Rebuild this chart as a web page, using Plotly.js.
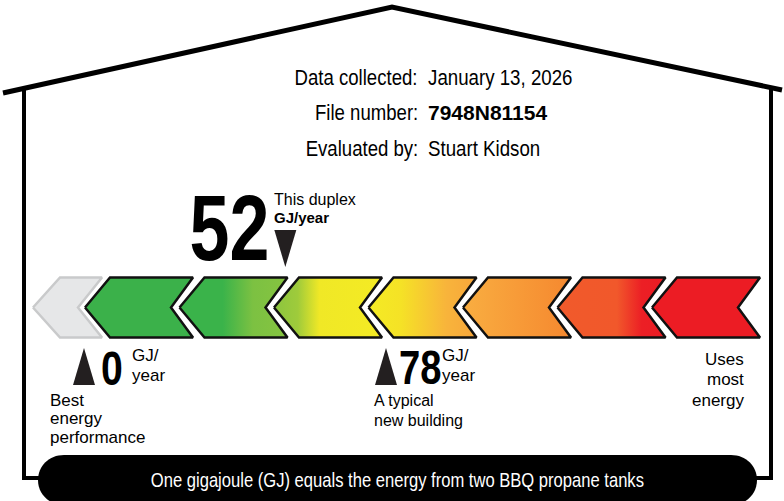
<!DOCTYPE html>
<html><head><meta charset="utf-8">
<script src="https://cdn.plot.ly/plotly-3.0.1.min.js"></script>
<style>html,body{margin:0;padding:0;background:#fff;overflow:hidden}#chart{width:784px;height:501px}</style>
</head><body><div id="chart"></div>
<script>
// ---- data ----
const thisHomeValue = 52;          // GJ/year, this duplex
const typicalValue = 78;           // GJ/year, a typical new building
const bestValue = 0;               // GJ/year, best energy performance
const infoLabels = ['Data collected:', 'File number:', 'Evaluated by:'];
const infoValues = ['January 13, 2026', '7948N81154', 'Stuart Kidson'];
const thisHomeLabel = ['This duplex', 'GJ/year'];
const bestLabel = ['Best', 'energy', 'performance'];
const typicalLabel = ['A typical', 'new building'];
const worstLabel = ['Uses', 'most', 'energy'];
const unitLines = ['GJ/', 'year'];
const footerText = 'One gigajoule (GJ) equals the energy from two BBQ propane tanks';

// ---- styling ----
const SANS = '"Liberation Sans", Arial, sans-serif';
const bandScales = [
  [[0,'#3bb14a'],[1,'#3bb14a']],
  [[0,'#3ab34a'],[0.4,'#3ab34a'],[0.68,'#7cc142'],[1,'#86c440']],
  [[0,'#8bc53f'],[0.22,'#9fcb3b'],[0.42,'#f0e826'],[1,'#f4eb24']],
  [[0,'#f4eb24'],[0.3,'#f5e226'],[0.72,'#f8b43b'],[1,'#f7a63b']],
  [[0,'#f9ae41'],[1,'#f5882f']],
  [[0,'#f15a2b'],[0.55,'#f1582b'],[0.78,'#ec1f25'],[1,'#ec1c24']],
  [[0,'#ec1c24'],[1,'#ec1c24']]
];

const traces = [];
// scale graphic (pixel layout on x2)
const yTop = 277.5, yMid = 307.5, yBot = 337.5;
traces.push({type:'scatter', xaxis:'x2', yaxis:'y', mode:'lines', hoverinfo:'skip',
  x:[33,60,102,78,102,60,33], y:[yMid,yTop,yTop,yMid,yBot,yBot,yMid],
  fill:'toself', fillcolor:'#e6e7e8', line:{color:'#c9cacb', width:2.5}});
bandScales.forEach((cs, i) => {
  const t = 85 + 94.5 * i;
  traces.push({type:'scatter', xaxis:'x2', yaxis:'y', mode:'lines', hoverinfo:'skip',
    x:[t, t+25, t+108, t+86, t+108, t+25, t], y:[yMid,yTop,yTop,yMid,yBot,yBot,yMid],
    fill:'toself', fillgradient:{type:'horizontal', colorscale:cs},
    line:{color:'#111', width:2.5}});
});

// value markers on GJ axis
const hw = 2.84;
traces.push({type:'scatter', xaxis:'x', yaxis:'y', mode:'lines', hoverinfo:'skip',
  x:[thisHomeValue-hw, thisHomeValue+hw, thisHomeValue, thisHomeValue-hw], y:[230,230,267,230],
  fill:'toself', fillcolor:'#231f20', line:{width:0, color:'#231f20'}});
[bestValue, typicalValue].forEach(v => {
  traces.push({type:'scatter', xaxis:'x', yaxis:'y', mode:'lines', hoverinfo:'skip',
    x:[v-hw, v+hw, v, v-hw], y:[385,385,348,385],
    fill:'toself', fillcolor:'#231f20', line:{width:0, color:'#231f20'}});
});

const anns = [];
const condensed = []; // [index, scale, origin]
function A(text, xref, x, y, size, xanchor, extra, squeeze) {
  anns.push(Object.assign({text, xref, yref:'y', x, y, xanchor, yanchor:'middle', showarrow:false,
    font:{family:SANS, size, color:'#000'}}, extra || {}));
  if (squeeze) condensed.push([anns.length - 1, squeeze, xanchor === 'left' ? 'left' : (xanchor === 'right' ? 'right' : 'center')]);
}
// header
infoLabels.forEach((t, i) => A(t, 'x2', 420, 77 + 35.5*i, 22, 'right', null, 0.845));
infoValues.forEach((t, i) => {
  if (i === 1) A('<b>' + t + '</b>', 'x2', 426, 77 + 35.5*i, 21, 'left');
  else A(t, 'x2', 426, 77 + 35.5*i, 22, 'left', null, 0.85);
});
// this home
A('<b>' + thisHomeValue + '</b>', 'x', thisHomeValue, 228, 92, 'right', {xshift:-14}, 0.78);
A(thisHomeLabel[0], 'x', thisHomeValue, 199, 16, 'left', {xshift:-13});
A('<b>' + thisHomeLabel[1] + '</b>', 'x', thisHomeValue, 217, 15, 'left', {xshift:-13});
// best
A('<b>' + bestValue + '</b>', 'x', bestValue, 368, 49, 'left', {xshift:15}, 0.8);
A(unitLines[0], 'x', bestValue, 355, 17, 'left', {xshift:46});
A(unitLines[1], 'x', bestValue, 375, 17, 'left', {xshift:46});
bestLabel.forEach((t, i) => A(t, 'x2', 48, 400 + 18.5*i, 17, 'left'));
// typical
A('<b>' + typicalValue + '</b>', 'x', typicalValue, 367, 49, 'left', {xshift:11}, 0.78);
A(unitLines[0], 'x', typicalValue, 355, 17, 'left', {xshift:54});
A(unitLines[1], 'x', typicalValue, 375, 17, 'left', {xshift:54});
typicalLabel.forEach((t, i) => A(t, 'x2', 372, 400 + 20*i, 16, 'left'));
// worst
worstLabel.forEach((t, i) => A(t, 'x2', 746, 359 + 20.5*i, 17, 'right'));
// footer
A(footerText, 'x2', 397, 480, 20, 'center', {font:{family:SANS, size:20, color:'#fff'}}, 0.83);

// condensed lettering (the label uses a condensed typeface)
const css = condensed.map(([i, s, o]) =>
  `.annotation[data-index="${i}"] text{transform-box:fill-box;transform-origin:${o} center;transform:scaleX(${s});}`).join('\n');
const st = document.createElement('style'); st.textContent = css; document.head.appendChild(st);

const shapes = [
  {type:'path', xref:'x2', yref:'y', path:'M3,93 L392,7 L782,90', line:{color:'#000', width:5}},
  {type:'path', xref:'x2', yref:'y', path:'M24,90 L24,478 L42,478', line:{color:'#000', width:4}},
  {type:'path', xref:'x2', yref:'y', path:'M771,88 L771,478 L752,478', line:{color:'#000', width:4}},
  {type:'path', xref:'x2', yref:'y', fillcolor:'#000', line:{color:'#000', width:0},
   path:'M64,455 L731,455 C746,455 757,466 757,480 C757,494 746,505 731,505 L64,505 C49,505 38,494 38,480 C38,466 49,455 64,455 Z'}
];

const pxPerGJ = (386 - 84) / 78;
const layout = {
  width:784, height:501, margin:{l:0,r:0,t:0,b:0}, showlegend:false,
  paper_bgcolor:'#fff', plot_bgcolor:'#fff',
  xaxis:{range:[-84/pxPerGJ, (784-84)/pxPerGJ], visible:false, fixedrange:true},
  xaxis2:{range:[0,784], overlaying:'x', anchor:'y', visible:false, fixedrange:true},
  yaxis:{range:[501,0], visible:false, fixedrange:true},
  shapes, annotations:anns
};
Plotly.newPlot('chart', traces, layout, {staticPlot:true, displayModeBar:false});
</script></body></html>
